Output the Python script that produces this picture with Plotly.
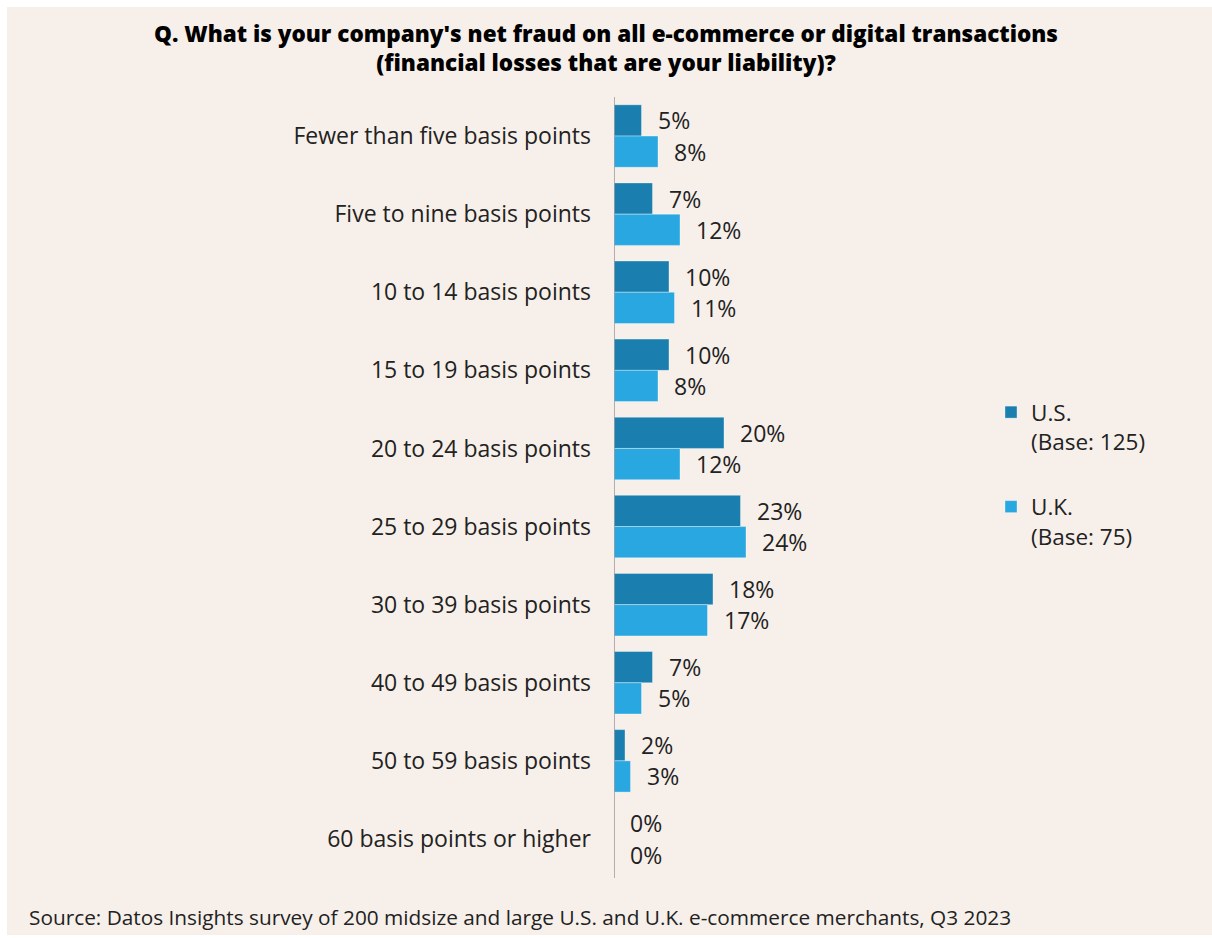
import plotly.graph_objects as go

# Survey answer buckets, top to bottom
categories = [
    "Fewer than five basis points",
    "Five to nine basis points",
    "10 to 14 basis points",
    "15 to 19 basis points",
    "20 to 24 basis points",
    "25 to 29 basis points",
    "30 to 39 basis points",
    "40 to 49 basis points",
    "50 to 59 basis points",
    "60 basis points or higher",
]

# Share of respondents (%)
us_values = [5, 7, 10, 10, 20, 23, 18, 7, 2, 0]
uk_values = [8, 12, 11, 8, 12, 24, 17, 5, 3, 0]

series_names = ["U.S.<br>(Base: 125)", "U.K.<br>(Base: 75)"]
series_colors = ["#1A7EAE", "#29A7E0"]

title_text = ("Q. What is your company's net fraud on all e-commerce or digital transactions<br>"
              "(financial losses that are your liability)?")
source_text = "Source: Datos Insights survey of 200 midsize and large U.S. and U.K. e-commerce merchants, Q3 2023"

FONT = "Open Sans"
TEXT_COLOR = "#222222"
BG = "#F7F0EA"

W, H = 1212, 938
PLOT_LEFT, PLOT_RIGHT = 614, 1000
PLOT_TOP, PLOT_BOTTOM = 97, 878
PX_PER_PCT = 5.5
x_max = (PLOT_RIGHT - PLOT_LEFT) / PX_PER_PCT
plot_w = PLOT_RIGHT - PLOT_LEFT
plot_h = PLOT_BOTTOM - PLOT_TOP


def px_x(px):
    """Page pixel x -> paper coordinate."""
    return (px - PLOT_LEFT) / plot_w


def px_y(px):
    """Page pixel y (from top) -> paper coordinate."""
    return (PLOT_BOTTOM - px) / plot_h


fig = go.Figure()
for i, (name, vals, col) in enumerate(zip(series_names, [us_values, uk_values], series_colors)):
    fig.add_trace(go.Bar(
        y=categories,
        x=vals,
        orientation="h",
        name=name,
        legendgroup=f"g{i}",
        marker=dict(color=col, line=dict(color="rgba(255,255,255,0.35)", width=1)),
        hoverinfo="skip",
    ))

# Value labels beside each bar
bar_half = 0.8 / 2  # group width (1 - bargap) split between two series
for i, vals in enumerate([us_values, uk_values]):
    offset = -bar_half / 2 if i == 0 else bar_half / 2
    for k, v in enumerate(vals):
        fig.add_annotation(
            x=v, y=k + offset, xref="x", yref="y",
            text=f"{v}%", showarrow=False,
            xanchor="left", yanchor="middle", xshift=14,
            font=dict(family=FONT, size=23, color=TEXT_COLOR),
        )

fig.add_annotation(
    x=px_x(27), y=px_y(917), xref="paper", yref="paper", text=source_text,
    showarrow=False, xanchor="left", yanchor="middle",
    font=dict(family=FONT, size=20.8, color=TEXT_COLOR),
)

fig.update_layout(
    width=W, height=H,
    paper_bgcolor="white",
    plot_bgcolor=BG,
    margin=dict(l=PLOT_LEFT, r=W - PLOT_RIGHT, t=PLOT_TOP, b=H - PLOT_BOTTOM),
    barmode="group",
    bargap=0.2,
    bargroupgap=0,
    title=dict(text=title_text, x=0.5, xanchor="center", xref="container",
               y=1 - 42 / H, yanchor="middle", yref="container",
               font=dict(family=FONT, size=22.5, weight=800, color="#000000")),
    font=dict(family=FONT, size=23, color=TEXT_COLOR),
    xaxis=dict(range=[0, x_max], visible=False, fixedrange=True),
    yaxis=dict(autorange="reversed", showgrid=False, zeroline=False,
               showline=False, ticks="", ticklabelstandoff=22,
               tickfont=dict(family=FONT, size=23, color=TEXT_COLOR)),
    legend=dict(x=px_x(991), xanchor="left",
                y=px_y(391), yanchor="top",
                bgcolor="rgba(0,0,0,0)", valign="top",
                tracegroupgap=33, traceorder="grouped",
                font=dict(family=FONT, size=22.5, color=TEXT_COLOR)),
    showlegend=True,
    shapes=[
        # page background panel
        dict(type="rect", xref="paper", yref="paper", layer="below",
             x0=px_x(7), x1=px_x(W), y0=px_y(935), y1=px_y(7),
             fillcolor=BG, line=dict(width=0)),
        # category axis line
        dict(type="line", xref="x", yref="paper", x0=0, x1=0, y0=0, y1=1,
             line=dict(color="#9A9A9A", width=1.5), layer="above"),
    ],
)

fig.write_html("out.html")
